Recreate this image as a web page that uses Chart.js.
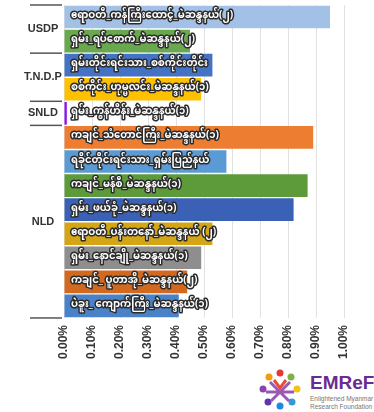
<!DOCTYPE html>
<html>
<head>
<meta charset="utf-8">
<script src="https://cdn.jsdelivr.net/npm/chart.js@4.4.1/dist/chart.umd.min.js"></script>
<style>
  body { margin: 0; background: #fff; font-family: "Liberation Sans", Arial, sans-serif; }
  #wrap { position: relative; width: 374px; height: 412px; }
  #box { position: absolute; left: 0; top: 0; width: 374px; height: 366px; }
  #logo { position: absolute; left: 256px; top: 368px; width: 118px; height: 44px; }
  #logo .name { position: absolute; left: 54px; top: 4px; font: bold 19px "Liberation Sans", Arial, sans-serif; color: #6a2c91; white-space: nowrap; }
  #logo .sub { position: absolute; left: 54px; top: 27px; font: 6.5px "Liberation Sans", Arial, sans-serif; color: #777; line-height: 8px; white-space: nowrap; }
</style>
</head>
<body>
<div id="wrap">
  <div id="box"><canvas id="grafico"></canvas></div>
  <div id="logo">
    <svg width="48" height="42" viewBox="0 0 48 42">
      <circle cx="24" cy="5" r="3.5" fill="#e53935"/>
      <circle cx="13" cy="9" r="3.5" fill="#f39c12"/>
      <circle cx="35" cy="9" r="3.5" fill="#7cb342"/>
      <circle cx="7" cy="21" r="3.5" fill="#8e44ad"/>
      <circle cx="41" cy="21" r="3.5" fill="#f1c40f"/>
      <circle cx="12" cy="34" r="3.5" fill="#5e35b1"/>
      <circle cx="36" cy="34" r="3.5" fill="#3498db"/>
      <circle cx="24" cy="38" r="3.5" fill="#1e88e5"/>
      <path d="M14 14 L24 24 L34 14 M10 24 L24 24 L38 24 M15 33 L24 24 L33 33" stroke="#9b59b6" stroke-width="3" fill="none"/>
      <path d="M18 12 L24 20 L30 12" stroke="#e74c3c" stroke-width="3" fill="none"/>
    </svg>
    <div class="name">EMReF</div>
    <div class="sub">Enlightened Myanmar<br>Research Foundation</div>
  </div>
</div>
<script>
// dados
const distritos = [
  'ဧရာဝတီ_ကန်ကြီးထောင့်_မဲဆန္ဒနယ်(၂)',
  'ရှမ်း_ရပ်စောက်_မဲဆန္ဒနယ်(၂)',
  'ရှမ်းတိုင်းရင်းသား_စစ်ကိုင်းတိုင်း',
  'စစ်ကိုင်း_ဟုမ္မလင်း_မဲဆန္ဒနယ်(၁)',
  'ရှမ်း_ကွန်ဟိန်း_မဲဆန္ဒနယ်(၁)',
  'ကချင်_သံတောင်ကြီး_မဲဆန္ဒနယ်(၁)',
  'ရခိုင်တိုင်းရင်းသား_ရှမ်းပြည်နယ်',
  'ကချင်_မန်စီ_မဲဆန္ဒနယ်(၁)',
  'ရှမ်း_ဖယ်ခုံ_မဲဆန္ဒနယ်(၁)',
  'ဧရာဝတီ_ပန်းတနော်_မဲဆန္ဒနယ် (၂)',
  'ရှမ်း_နောင်ချို_မဲဆန္ဒနယ်(၁)',
  'ကချင်_ ပူတာအို_မဲဆန္ဒနယ်(၂)',
  'ပဲခူး_ ကျောက်ကြီး_မဲဆန္ဒနယ်(၁)'
];
const percentuais = [0.95, 0.45, 0.53, 0.49, 0.01, 0.89, 0.58, 0.87, 0.82, 0.53, 0.49, 0.44, 0.41];
const cores = ['#a3c1e6', '#6aa84f', '#4472c4', '#ffc000', '#8b10f0', '#ed7d31', '#5b9bd5',
  '#5d9a3a', '#3a61b5', '#d4a514', '#8e8e8e', '#d2691e', '#4a82c9'];
const partidos = ['USDP', 'T.N.D.P', 'SNLD', 'NLD'];
const tamanhoGrupo = [2, 2, 1, 8];
const ticksX = [0, 0.1, 0.2, 0.3, 0.4, 0.5, 0.6, 0.7, 0.8, 0.9, 1.0];

// nomes dentro das barras + grupos à esquerda
const rotulos = {
  id: 'rotulos',
  afterDatasetsDraw(chart) {
    const { ctx, chartArea, scales } = chart;
    const meta = chart.getDatasetMeta(0);
    ctx.save();
    ctx.font = 'bold 10px "Noto Sans Myanmar", Padauk, "Noto Sans", sans-serif';
    ctx.textBaseline = 'middle';
    ctx.lineJoin = 'round';
    meta.data.forEach((bar, i) => {
      ctx.strokeStyle = '#2b2b2b';
      ctx.lineWidth = 3;
      ctx.strokeText(distritos[i], chartArea.left + 7, bar.y);
      ctx.fillStyle = '#fff';
      ctx.fillText(distritos[i], chartArea.left + 7, bar.y);
    });
    // grupos
    const y = scales.y;
    const meia = (y.getPixelForValue(1) - y.getPixelForValue(0)) / 2;
    let inicio = 0;
    ctx.font = 'bold 11px "Liberation Sans", Arial, sans-serif';
    ctx.fillStyle = '#333';
    ctx.textAlign = 'center';
    ctx.strokeStyle = '#555';
    ctx.lineWidth = 1.5;
    const linha = yy => { ctx.beginPath(); ctx.moveTo(30, yy); ctx.lineTo(62, yy); ctx.stroke(); };
    linha(y.getPixelForValue(0) - meia);
    partidos.forEach((p, k) => {
      const fim = inicio + tamanhoGrupo[k] - 1;
      const topo = y.getPixelForValue(inicio) - meia;
      const base = y.getPixelForValue(fim) + meia;
      ctx.fillText(p, 43, (topo + base) / 2);
      linha(base);
      inicio = fim + 1;
    });
    ctx.restore();
  }
};

const ctx = document.getElementById('grafico').getContext('2d');
new Chart(ctx, {
  type: 'bar',
  data: {
    labels: distritos,
    datasets: [{
      data: percentuais,
      backgroundColor: cores,
      barPercentage: 0.94,
      categoryPercentage: 1
    }]
  },
  options: {
    indexAxis: 'y',
    responsive: true,
    maintainAspectRatio: false,
    animation: false,
    layout: { padding: { left: 64, right: 30, top: 5, bottom: 0 } },
    plugins: { legend: { display: false }, tooltip: { enabled: false } },
    scales: {
      x: {
        min: 0,
        max: 1,
        afterBuildTicks: s => { s.ticks = ticksX.map(v => ({ value: v })); },
        ticks: {
          minRotation: 90,
          maxRotation: 90,
          color: '#333',
          padding: 7,
          font: { size: 12, weight: 'bold', family: '"Liberation Sans", Arial, sans-serif' },
          callback: v => Number(v).toFixed(2) + '%'
        },
        grid: { color: '#e2e2e2', drawTicks: false },
        border: { display: false }
      },
      y: {
        display: false
      }
    }
  },
  plugins: [rotulos]
});
</script>
</body>
</html>
